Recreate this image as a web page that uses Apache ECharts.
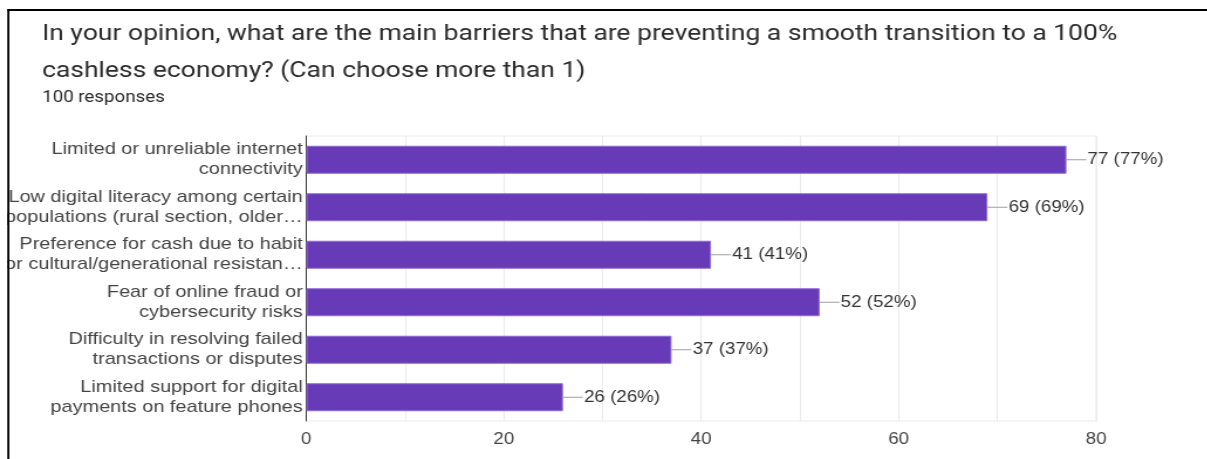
<!DOCTYPE html>
<html>
<head>
<meta charset="utf-8">
<script src="https://cdn.jsdelivr.net/npm/echarts@6/dist/echarts.min.js"></script>
<style>
  html, body { margin: 0; padding: 0; background: #fff; overflow: hidden; }
  #stage { width: 1207px; height: 459px; position: relative; overflow: hidden; }
  #chart { position: absolute; left: 0; top: 0; height: 459px; transform-origin: 0 0; }
</style>
</head>
<body>
<div id="stage"><div id="chart"></div></div>
<script>
// Survey question, answer options and response counts
const questionText = 'In your opinion, what are the main barriers that are preventing a smooth transition to a 100%\ncashless economy? (Can choose more than 1)';
const totalResponses = 100;
const categories = [
  'Limited or unreliable internet\nconnectivity',
  'Low digital literacy among certain\npopulations (rural section, older…',
  'Preference for cash due to habit\nor cultural/generational resistan…',
  'Fear of online fraud or\ncybersecurity risks',
  'Difficulty in resolving failed\ntransactions or disputes',
  'Limited support for digital\npayments on feature phones'
];
const counts = [77, 69, 41, 52, 37, 26];
const tickLabels = [0, 20, 40, 60, 80];

// Horizontal stretch of the whole drawing
const W = 1207, H = 459, SX = 1.17;
const CW = W / SX;
const el = document.getElementById('chart');
el.style.width = CW + 'px';
el.style.transform = 'scaleX(' + SX + ')';

const chart = echarts.init(el, null, { renderer: 'canvas', width: CW, height: H });

const gridLeft = 306 / SX;
const gridRight = CW - 1095 / SX;

chart.setOption({
  animation: false,
  backgroundColor: '#fff',
  title: {
    text: questionText,
    subtext: totalResponses + ' responses',
    left: 42 / SX,
    top: 16,
    padding: 0,
    itemGap: 0,
    textStyle: { fontFamily: 'Roboto', fontSize: 22.6, fontWeight: 'normal', color: '#2b2b2b', lineHeight: 37 },
    subtextStyle: { fontFamily: 'Roboto', fontSize: 16, color: '#2b2b2b', lineHeight: 16 }
  },
  grid: {
    left: gridLeft, right: gridRight, top: 136, bottom: 38,
    show: true, borderColor: '#ebebeb', borderWidth: 1, containLabel: false
  },
  xAxis: {
    type: 'value', min: 0, max: 80, interval: 10,
    axisLine: { show: false }, axisTick: { show: false },
    splitLine: { lineStyle: { color: '#ebebeb', width: 1 } },
    axisLabel: {
      margin: 11, fontFamily: 'Liberation Sans, Arial', fontSize: 16, color: '#444',
      formatter: v => (tickLabels.indexOf(v) >= 0 ? String(v) : '')
    }
  },
  yAxis: {
    type: 'category', inverse: true, data: categories,
    axisLine: { lineStyle: { color: '#333', width: 1 } },
    axisTick: { show: false },
    axisLabel: { margin: 3, fontFamily: 'Liberation Sans, Arial', fontSize: 17, lineHeight: 20, color: '#444', align: 'right', padding: [7, 0, 0, 0] }
  },
  series: [{
    type: 'bar',
    data: counts,
    barCategoryGap: '41%',
    itemStyle: { color: '#673ab7', borderColor: '#8f6fd3', borderWidth: 1 },
    label: {
      show: true, position: 'right', distance: 0,
      formatter: p => '{l|}{v|' + p.value + ' (' + Math.round(p.value / totalResponses * 100) + '%)}',
      rich: {
        l: { width: 17, height: 1, backgroundColor: '#9e9e9e' },
        v: { fontFamily: 'Liberation Sans, Arial', fontSize: 16, color: '#333', padding: [0, 0, 0, 1] }
      }
    }
  }],
  graphic: [
    { type: 'rect', z: 100, shape: { x: 0, y: 0, width: 6.2, height: H }, style: { fill: '#fff' } },
    { type: 'rect', z: 101, shape: { x: 6.2, y: 9, width: 1.8, height: H }, style: { fill: '#000' } },
    { type: 'rect', z: 101, shape: { x: 6.2, y: 9, width: CW, height: 2 }, style: { fill: '#000' } }
  ]
});
</script>
</body>
</html>
